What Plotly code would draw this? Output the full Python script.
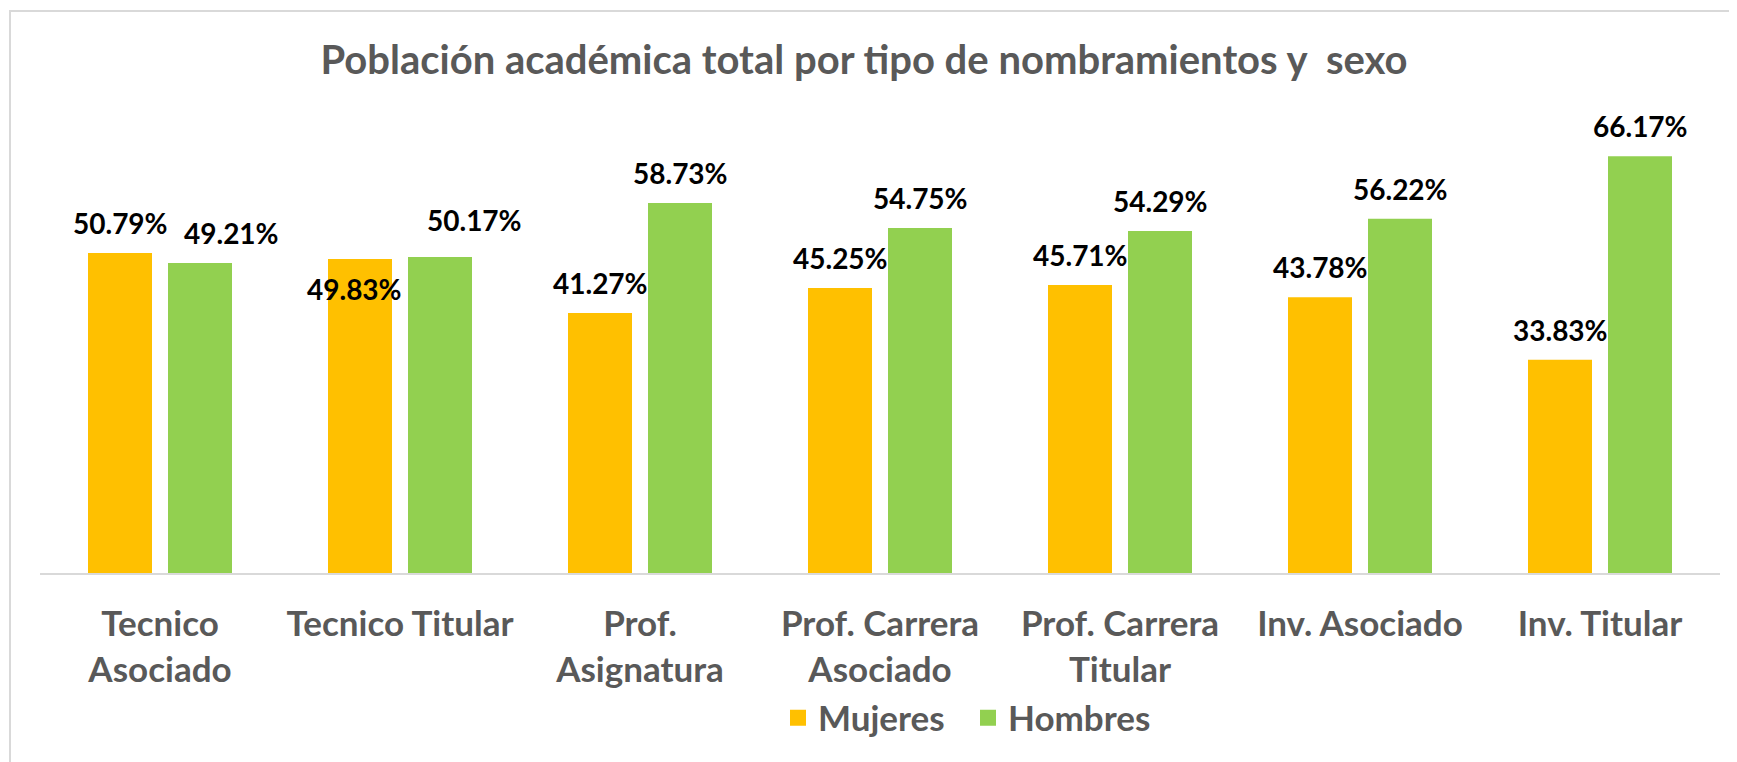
import plotly.graph_objects as go

categories = ["Tecnico<br>Asociado", "Tecnico Titular", "Prof.<br>Asignatura",
              "Prof. Carrera<br>Asociado", "Prof. Carrera<br>Titular",
              "Inv. Asociado", "Inv. Titular"]
mujeres = [50.79, 49.83, 41.27, 45.25, 45.71, 43.78, 33.83]
hombres = [49.21, 50.17, 58.73, 54.75, 54.29, 56.22, 66.17]

# label placement tweaks (pixels) - style only
muj_xshift = [0, -6, 0, 0, 0, 0, 0]
muj_yshift = [30, -30, 30, 30, 30, 30, 30]
hom_xshift = [31, 34, 0, 0, 0, 0, 0]
hom_yshift = [30, 37, 30, 30, 30, 30, 30]

OFF = 8  # page body margin
W, H = 1737 - OFF, 762 - OFF
L, R, T, B = 40 - OFF, 17, 100 - OFF, 762 - 573
PW, PH = W - L - R, H - T - B
PX_PER_UNIT = 6.30
ymax = PH / PX_PER_UNIT

FONT = "Lato"
GRAY = "#595959"
C_M, C_H = "#FFC000", "#92D050"

fig = go.Figure()
fig.add_trace(go.Bar(name="Mujeres", x=categories, y=mujeres, showlegend=False,
                     marker=dict(color=C_M, line=dict(width=0))))
fig.add_trace(go.Bar(name="Hombres", x=categories, y=hombres, showlegend=False,
                     marker=dict(color=C_H, line=dict(width=0))))
# legend entries (square swatches)
for name, col in (("Mujeres", C_M), ("Hombres", C_H)):
    fig.add_trace(go.Scatter(name=name, x=[None], y=[None], mode="markers",
                             marker=dict(symbol="square", size=16, color=col)))

slot_px = 80  # half group width
annotations = []
for i, c in enumerate(categories):
    annotations.append(dict(x=c, y=mujeres[i], xref="x", yref="y",
                            text=f"{mujeres[i]:.2f}%", showarrow=False,
                            xshift=-slot_px / 2 + muj_xshift[i], yshift=muj_yshift[i],
                            font=dict(family=FONT, size=28, color="#000000", weight="bold")))
    annotations.append(dict(x=c, y=hombres[i], xref="x", yref="y",
                            text=f"{hombres[i]:.2f}%", showarrow=False,
                            xshift=slot_px / 2 + hom_xshift[i], yshift=hom_yshift[i],
                            font=dict(family=FONT, size=28, color="#000000", weight="bold")))

fig.update_layout(
    width=W, height=H,
    margin=dict(l=L, r=R, t=T, b=B, autoexpand=False),
    paper_bgcolor="white", plot_bgcolor="white",
    barmode="group", bargap=1 / 3, bargroupgap=0.2,
    title=dict(text="Población académica total por tipo de nombramientos y  sexo",
               x=(864 - OFF) / W, xanchor="center", y=1 - (60 - OFF) / H, yanchor="middle",
               font=dict(family=FONT, size=40, color=GRAY, weight="bold")),
    xaxis=dict(showline=True, linecolor="#D9D9D9", linewidth=2, ticks="",
               showgrid=False, tickfont=dict(family=FONT, size=35, color=GRAY, weight="bold"),
               ticklabelstandoff=19),
    yaxis=dict(range=[0, ymax], visible=False, showgrid=False, zeroline=False),
    legend=dict(orientation="h", x=(968 - OFF - L) / PW, xanchor="center",
                y=(573 - 718) / PH, yanchor="middle", entrywidth=145,
                font=dict(family=FONT, size=35, color=GRAY, weight="bold"),
                bgcolor="rgba(0,0,0,0)"),
    annotations=annotations,
    shapes=[dict(type="rect", xref="paper", yref="paper",
                 x0=(10 - OFF - L) / PW, x1=1.05,
                 y0=-0.6, y1=(573 - 11) / PH,
                 line=dict(color="#D9D9D9", width=2), layer="below")],
)

fig.write_html("out.html")
